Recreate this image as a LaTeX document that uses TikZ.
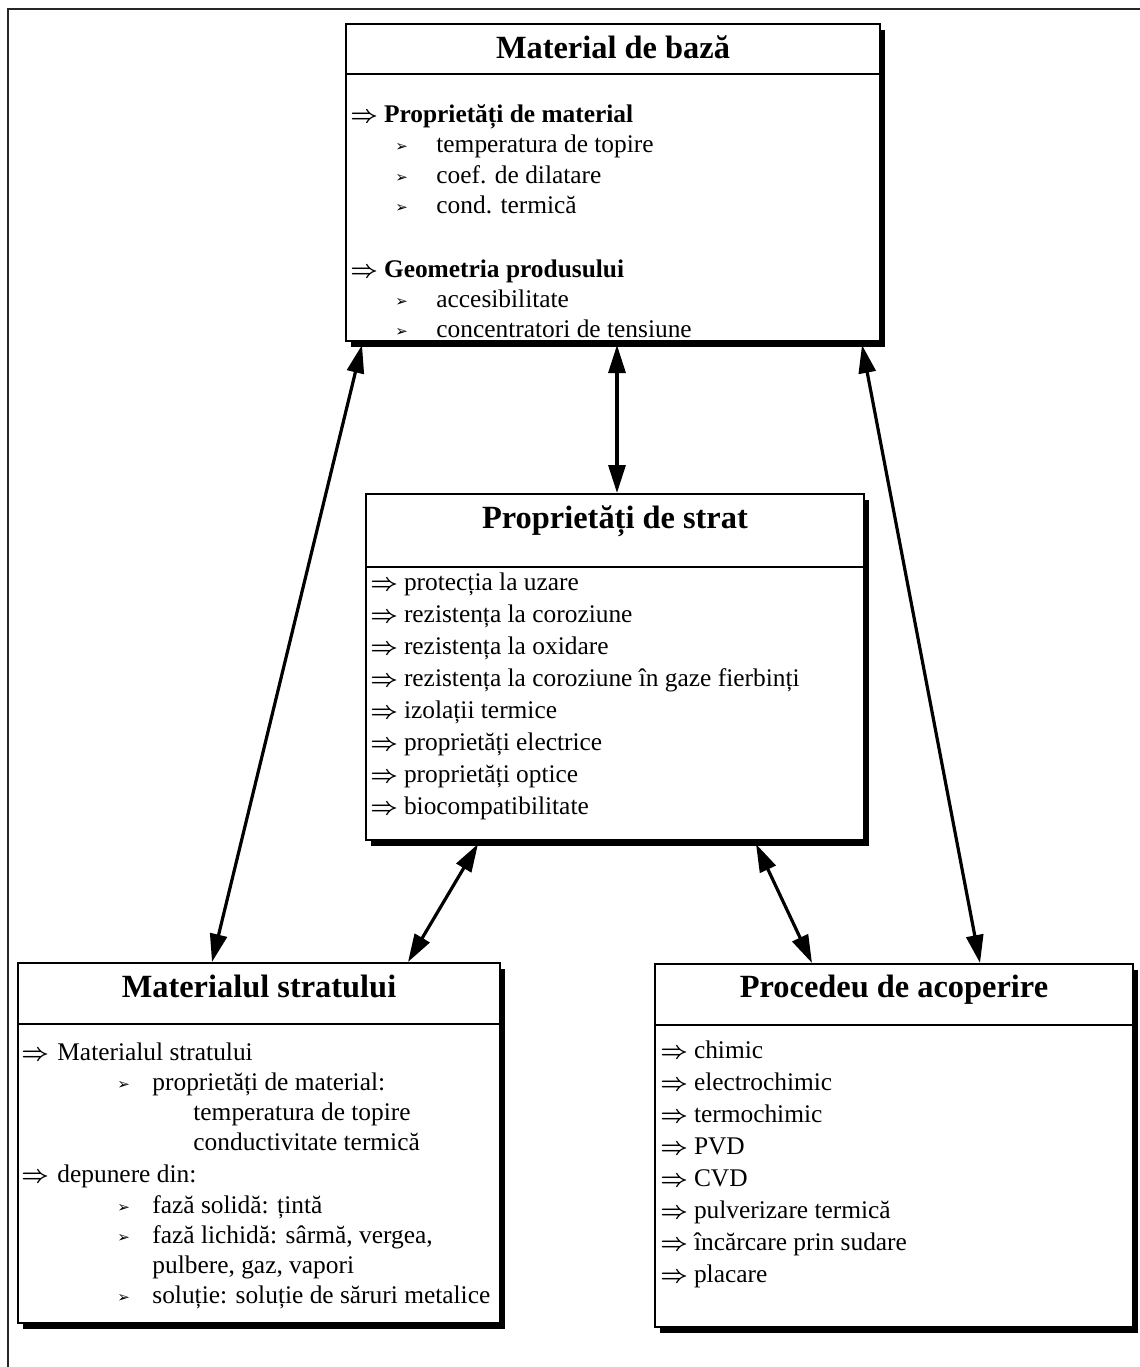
\documentclass[tikz,border=0pt]{standalone}
\usepackage{amsmath}
\usepackage{fontspec}
\setmainfont{Liberation Serif}
\newfontfamily\dingfont{DejaVu Sans}
\usetikzlibrary{arrows.meta,calc,shadows}

% list markers
\newcommand{\impl}[1][16.8pt]{\makebox[#1][l]{$\boldsymbol{\Rightarrow}$}}
\newcommand{\bul}[1][20.5pt]{\makebox[#1][l]{\raisebox{0.3pt}{\dingfont\fontsize{7.5}{7.5}\selectfont ➢}}}

\begin{document}
\begin{tikzpicture}[x=0.5pt,y=-0.5pt,
  panel/.style={draw=black, line width=1pt, fill=white, anchor=north west,
    inner sep=0pt, outer sep=0pt,
    drop shadow={shadow xshift=2.5pt, shadow yshift=-3pt, fill=black, opacity=1}},
  ttl/.style={anchor=base, inner sep=0pt, font=\bfseries\fontsize{16.2}{19}\selectfont},
  ln/.style={anchor=base west, inner sep=0pt, font=\fontsize{12.7}{15}\selectfont},
  sep/.style={line width=1pt},
  link/.style={line width=1.6pt,
    {Triangle[length=14pt,width=8.5pt]}-{Triangle[length=14pt,width=8.5pt]}},
  frame/.style={line width=1.2pt, black!85}]

\useasboundingbox (0,0) rectangle (1140,1367);

% page frame
\coordinate (fr) at (8,9);
\draw[frame] (1140,9) -- (fr) -- (8,1367);

% panels
\node[panel, minimum width=267pt, minimum height=158.5pt] (mb) at (346,24) {};
\node[panel, minimum width=249pt, minimum height=173pt]   (ps) at (366,494) {};
\node[panel, minimum width=241pt, minimum height=180pt]   (ms) at (18,963) {};
\node[panel, minimum width=239pt, minimum height=181.5pt] (pa) at (655,964) {};

\draw[sep] ($(mb.north west)+(0,50)$) -- ($(mb.north east)+(0,50)$);
\draw[sep] ($(ps.north west)+(0,73)$) -- ($(ps.north east)+(0,73)$);
\draw[sep] ($(ms.north west)+(0,61)$) -- ($(ms.north east)+(0,61)$);
\draw[sep] ($(pa.north west)+(0,61)$) -- ($(pa.north east)+(0,61)$);

% titles
\node[ttl] (mb-t) at (613,58) {Material de bază};
\node[ttl] (ps-t) at (615,528) {Proprietăți de strat};
\node[ttl] (ms-t) at (259,997) {Materialul stratului};
\node[ttl] (pa-t) at (894,997) {Procedeu de acoperire};

% base material
\node[ln] (mb-1) at (350,122) {\impl\textbf{Proprietăți de material}};
\node[ln] (mb-2) at (395,152) {\bul temperatura de topire};
\node[ln] (mb-3) at (395,183) {\bul coef. de dilatare};
\node[ln] (mb-4) at (395,213) {\bul cond. termică};
\node[ln] (mb-5) at (350,277) {\impl\textbf{Geometria produsului}};
\node[ln] (mb-6) at (395,307) {\bul accesibilitate};
\node[ln] (mb-7) at (395,337) {\bul concentratori de tensiune};

% layer properties
\node[ln] (ps-1) at (370,590) {\impl protecția la uzare};
\node[ln] (ps-2) at (370,622) {\impl rezistența la coroziune};
\node[ln] (ps-3) at (370,654) {\impl rezistența la oxidare};
\node[ln] (ps-4) at (370,686) {\impl rezistența la coroziune în gaze fierbinți};
\node[ln] (ps-5) at (370,718) {\impl izolații termice};
\node[ln] (ps-6) at (370,750) {\impl proprietăți electrice};
\node[ln] (ps-7) at (370,782) {\impl proprietăți optice};
\node[ln] (ps-8) at (370,814) {\impl biocompatibilitate};

% layer material
\node[ln] (ms-1) at (21,1060)  {\impl[18pt]Materialul stratului};
\node[ln] (ms-2) at (117,1090) {\bul[17.5pt]proprietăți de material:};
\node[ln] (ms-3) at (193,1120) {temperatura de topire};
\node[ln] (ms-4) at (193,1150) {conductivitate termică};
\node[ln] (ms-5) at (21,1182)  {\impl[18pt]depunere din:};
\node[ln] (ms-6) at (117,1213) {\bul[17.5pt]fază solidă: țintă};
\node[ln] (ms-7) at (117,1243) {\bul[17.5pt]fază lichidă: sârmă, vergea,};
\node[ln] (ms-8) at (152,1273) {pulbere, gaz, vapori};
\node[ln] (ms-9) at (117,1303) {\bul[17.5pt]soluție: soluție de săruri metalice};

% coating process
\node[ln] (pa-1) at (660,1058) {\impl chimic};
\node[ln] (pa-2) at (660,1090) {\impl electrochimic};
\node[ln] (pa-3) at (660,1122) {\impl termochimic};
\node[ln] (pa-4) at (660,1154) {\impl PVD};
\node[ln] (pa-5) at (660,1186) {\impl CVD};
\node[ln] (pa-6) at (660,1218) {\impl pulverizare termică};
\node[ln] (pa-7) at (660,1250) {\impl încărcare prin sudare};
\node[ln] (pa-8) at (660,1282) {\impl placare};

% relations
\draw[link] ($(mb.south west)+(16,4)$)  -- ($(ms.north west)+(194,-1)$);
\draw[link] ($(mb.south west)+(271,4)$) -- ($(ps.north west)+(251,-1)$);
\draw[link] ($(mb.south west)+(516,4)$) -- ($(pa.north west)+(325,-1)$);
\draw[link] ($(ps.south west)+(112,4)$) -- ($(ms.north west)+(390,-1)$);
\draw[link] ($(ps.south west)+(390,4)$) -- ($(pa.north west)+(157,-1)$);

\end{tikzpicture}
\end{document}
